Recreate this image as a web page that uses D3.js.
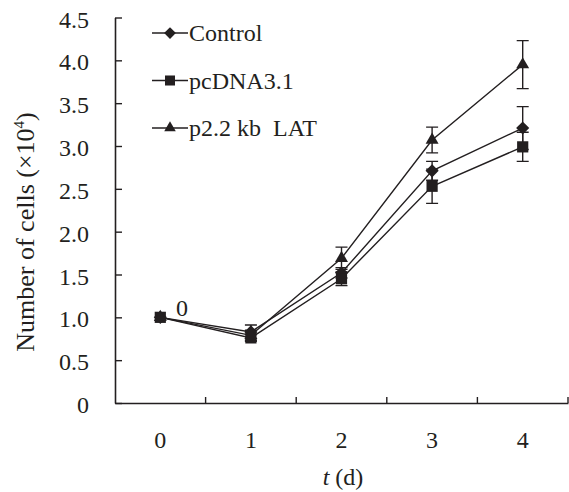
<!DOCTYPE html>
<html>
<head>
<meta charset="utf-8">
<script src="https://cdnjs.cloudflare.com/ajax/libs/d3/7.8.5/d3.min.js"></script>
<style>
  body { margin: 0; background: #fff; }
  svg { display: block; }
  text { font-family: "Liberation Serif", "Times New Roman", serif; }
</style>
</head>
<body>
<div id="vis"></div>
<script>
// data
let days = [0, 1, 2, 3, 4];
let yTicks = [0, 0.5, 1, 1.5, 2, 2.5, 3, 3.5, 4, 4.5];
let seriesNames = ['Control', 'pcDNA3.1', 'p2.2 kb  LAT'];
let controlVals = [1.0, 0.83, 1.52, 2.71, 3.21];
let controlErr = [0, 0.08, 0.06, 0.11, 0.25];
let pcdnaVals = [1.0, 0.76, 1.45, 2.53, 2.99];
let pcdnaErr = [0, 0.04, 0.08, 0.2, 0.17];
let latVals = [1.0, 0.79, 1.69, 3.07, 3.95];
let latErr = [0, 0.06, 0.13, 0.15, 0.28];

let width = 569, height = 492;
let margin = { top: 17.5, left: 115, right: 1, bottom: 89 };
let ink = '#231f20';
let serif = '"Liberation Serif", "Times New Roman", serif';

let svg = d3.select('#vis')
    .append('svg')
    .attr('width', width)
    .attr('height', height);

let x = d3.scaleBand()
    .domain(days)
    .range([margin.left, width - margin.right])
    .paddingInner(0)
    .paddingOuter(0);
let y = d3.scaleLinear()
    .domain([0, 4.5])
    .range([height - margin.bottom, margin.top]);

let cx = function(d) { return x(d) + x.bandwidth() / 2; };

// y axis, ticks pointing inward
let yAxis = svg.append('g')
    .attr('transform', 'translate(' + margin.left + ',0)')
    .call(d3.axisLeft(y)
        .tickValues(yTicks)
        .tickSizeInner(-7)
        .tickSizeOuter(0)
        .tickPadding(26)
        .tickFormat(function(d) { return d === 0 ? '0' : d3.format('.1f')(d); }));
yAxis.attr('font-family', serif);
yAxis.select('.domain').attr('stroke', ink).attr('stroke-width', 1.6);
yAxis.selectAll('.tick line').attr('stroke', ink).attr('stroke-width', 1.4);
yAxis.selectAll('.tick text')
    .attr('font-size', 24)
    .attr('fill', ink)
    .attr('dy', '0.4em');

// x axis, labels centred in bands, ticks at band edges
let xAxis = svg.append('g')
    .attr('transform', 'translate(0,' + y(0) + ')')
    .call(d3.axisBottom(x).tickSize(0).tickPadding(28));
xAxis.attr('font-family', serif);
xAxis.select('.domain').attr('stroke', ink).attr('stroke-width', 1.6);
xAxis.selectAll('.tick text')
    .attr('font-size', 24)
    .attr('fill', ink);
xAxis.selectAll('.edge')
    .data(days)
    .enter().append('line')
    .attr('class', 'edge')
    .attr('x1', function(d) { return x(d) + x.bandwidth(); })
    .attr('x2', function(d) { return x(d) + x.bandwidth(); })
    .attr('y1', 0)
    .attr('y2', -6)
    .attr('stroke', ink)
    .attr('stroke-width', 1.4);

// axis titles
svg.append('text')
    .attr('transform', 'translate(34,' + 232 + ') rotate(-90)')
    .attr('text-anchor', 'middle')
    .attr('font-size', 26)
    .attr('fill', ink)
    .html('Number of cells (×10<tspan dy="-10" font-size="15">4</tspan><tspan dy="10">)</tspan>');

svg.append('text')
    .attr('x', 343)
    .attr('y', 485)
    .attr('text-anchor', 'middle')
    .attr('font-size', 24)
    .attr('fill', ink)
    .html('<tspan font-style="italic">t</tspan> (d)');

// series
let series = [
    { name: seriesNames[0], vals: controlVals, err: controlErr, shape: d3.symbolDiamond2, size: 110 },
    { name: seriesNames[1], vals: pcdnaVals, err: pcdnaErr, shape: d3.symbolSquare2, size: 160 },
    { name: seriesNames[2], vals: latVals, err: latErr, shape: d3.symbolTriangle2, size: 120 }
];

let line = d3.line()
    .x(function(d, i) { return cx(days[i]); })
    .y(function(d) { return y(d); });

let plot = svg.append('g');

series.forEach(function(s) {
    plot.append('path')
        .datum(s.vals)
        .attr('fill', 'none')
        .attr('stroke', ink)
        .attr('stroke-width', 1.4)
        .attr('d', line);
});

series.forEach(function(s) {
    let g = plot.append('g');
    let pts = days.map(function(d, i) { return { d: d, v: s.vals[i], e: s.err[i] }; })
        .filter(function(p) { return p.e > 0; });
    g.selectAll('.bar')
        .data(pts)
        .enter().append('path')
        .attr('fill', 'none')
        .attr('stroke', ink)
        .attr('stroke-width', 1.4)
        .attr('d', function(p) {
            let xx = cx(p.d), y1 = y(p.v - p.e), y2 = y(p.v + p.e);
            return 'M' + xx + ',' + y1 + 'V' + y2 +
                'M' + (xx - 6) + ',' + y1 + 'H' + (xx + 6) +
                'M' + (xx - 6) + ',' + y2 + 'H' + (xx + 6);
        });
});

series.forEach(function(s) {
    plot.selectAll(null)
        .data(s.vals)
        .enter().append('path')
        .attr('transform', function(d, i) { return 'translate(' + cx(days[i]) + ',' + y(d) + ')'; })
        .attr('d', d3.symbol().type(s.shape).size(s.size))
        .attr('fill', ink);
});

// label next to day 0
svg.append('text')
    .attr('x', 182)
    .attr('y', 316)
    .attr('text-anchor', 'middle')
    .attr('font-size', 24)
    .attr('fill', ink)
    .text('0');

// legend
let legend = svg.append('g')
    .selectAll('g')
    .data(series)
    .enter().append('g')
    .attr('transform', function(d, i) { return 'translate(0,' + (33 + i * 47.5) + ')'; });

legend.append('line')
    .attr('x1', 152)
    .attr('x2', 188)
    .attr('stroke', ink)
    .attr('stroke-width', 1.4);
legend.append('path')
    .attr('transform', 'translate(170,0)')
    .attr('d', function(d) { return d3.symbol().type(d.shape).size(d.size * 0.8)(); })
    .attr('fill', ink);
legend.append('text')
    .attr('x', 189)
    .attr('y', 8)
    .attr('font-size', 24)
    .attr('fill', ink)
    .style('white-space', 'pre')
    .text(function(d) { return d.name; });
</script>
</body>
</html>
